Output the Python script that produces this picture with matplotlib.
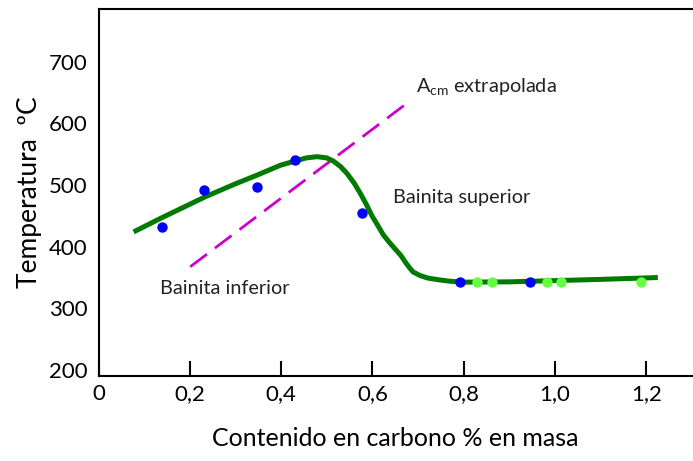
import matplotlib.pyplot as plt

plt.rcParams['font.family'] = ['Lato', 'DejaVu Sans']

# curva ajustada
curve_x = [0.077, 0.136, 0.234, 0.30, 0.347, 0.398, 0.431, 0.455, 0.479, 0.50,
           0.514, 0.530, 0.544, 0.560, 0.573, 0.587, 0.599, 0.612, 0.624, 0.637,
           0.650, 0.662, 0.672, 0.681, 0.689, 0.705, 0.722, 0.748, 0.77, 0.80,
           0.90, 1.00, 1.10, 1.225]
curve_y = [424, 446, 481, 502, 516, 532, 539, 544, 546, 544,
           539, 530, 519, 503, 487, 468, 450, 434, 419, 407,
           396, 386, 375, 366, 359, 353, 349, 346, 344, 342.5,
           343, 345, 347, 350]

# puntos experimentales
blue_x = [0.138, 0.232, 0.348, 0.431, 0.578, 0.792, 0.945]
blue_y = [432, 492, 497, 540, 454, 343, 343]
green_x = [0.829, 0.862, 0.982, 1.013, 1.188]
green_y = [343, 343, 343, 343, 343]

# Acm extrapolada
acm_x = [0.201, 0.677]
acm_y = [367.5, 633.5]

xticks = [0, 0.2, 0.4, 0.6, 0.8, 1.0, 1.2]
xtick_labels = ['0', '0,2', '0,4', '0,6', '0,8', '1,0', '1,2']
yticks = [200, 300, 400, 500, 600, 700]

fig = plt.figure(figsize=(6.93, 4.61), dpi=100)
ax = fig.add_axes([98.5 / 693, 1 - 376 / 461, 1 - 98.5 / 693, 367 / 461])

ax.plot(acm_x, acm_y, color='#cc00cc', lw=2, dashes=(7.5, 3.6))
ax.plot(curve_x, curve_y, color='#007a00', lw=3.6, solid_joinstyle='round',
        solid_capstyle='butt')
ax.plot(blue_x, blue_y, 'o', color='#0000ff', ms=7.5, mec='none')
ax.plot(green_x, green_y, 'o', color='#66ff44', ms=7.5, mec='none')

ax.text(0.6455, 479, 'Bainita superior', fontsize=14.3, va='center', color='#222222')
ax.text(0.134, 333, 'Bainita inferior', fontsize=14.3, va='center', color='#222222')
ax.text(0.696, 659, r'A$_{\mathregular{cm}}$ extrapolada', fontsize=14.3, va='center',
        color='#222222')

ax.set_xlim(0, 1.302)
ax.set_ylim(190.3, 785.5)
ax.set_xticks(xticks)
ax.set_xticklabels(xtick_labels)
ax.set_yticks(yticks)
ax.tick_params(axis='x', direction='in', length=11, width=1.5, labelsize=16, pad=6)
ax.tick_params(axis='y', length=0, labelsize=16, pad=8)
for s in ['left', 'top', 'bottom']:
    ax.spines[s].set_linewidth(1.5)
ax.spines['right'].set_visible(False)

ax.set_ylabel('Temperatura  ºC', fontsize=19, labelpad=5)
ax.set_xlabel('Contenido en carbono % en masa', fontsize=18, labelpad=16)

fig.savefig('out.png', dpi=100)
